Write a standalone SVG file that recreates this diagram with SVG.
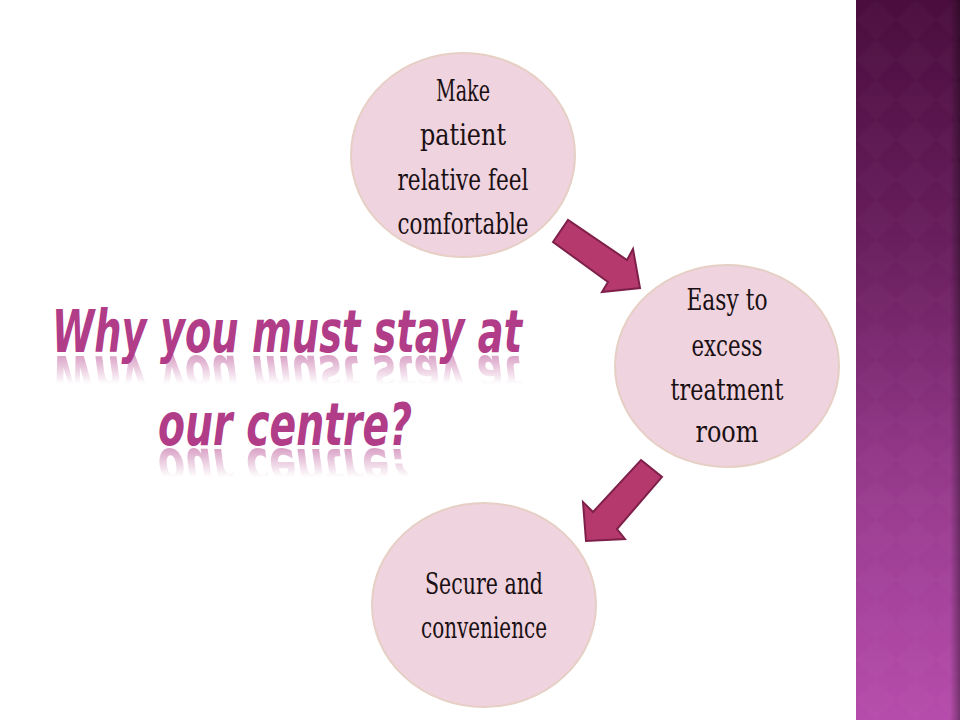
<svg xmlns="http://www.w3.org/2000/svg" xmlns:xlink="http://www.w3.org/1999/xlink" width="960" height="720" viewBox="0 0 960 720">
  <defs>
    <linearGradient id="side" x1="0" y1="0" x2="0" y2="1">
      <stop offset="0" stop-color="#4a0d3d"/>
      <stop offset="0.35" stop-color="#6a1f5f"/>
      <stop offset="0.7" stop-color="#9a3c90"/>
      <stop offset="1" stop-color="#b64cac"/>
    </linearGradient>
    <linearGradient id="edge" x1="0" y1="0" x2="1" y2="0">
      <stop offset="0" stop-color="#000" stop-opacity="0"/>
      <stop offset="1" stop-color="#000" stop-opacity="0.35"/>
    </linearGradient>
    <pattern id="diam" width="40" height="40" patternUnits="userSpaceOnUse" x="856" y="0">
      <path d="M20 0 L40 20 L20 40 L0 20 Z" fill="#ffffff" fill-opacity="0.015"/>
    </pattern>
    <linearGradient id="fade" x1="0" y1="0" x2="0" y2="1">
      <stop offset="0" stop-color="#fff" stop-opacity="0.5"/>
      <stop offset="1" stop-color="#fff" stop-opacity="0"/>
    </linearGradient>
    <mask id="refl1" maskUnits="userSpaceOnUse" x="0" y="0" width="960" height="720">
      <rect x="40" y="354" width="500" height="30" fill="url(#fade)"/>
    </mask>
    <mask id="refl2" maskUnits="userSpaceOnUse" x="0" y="0" width="960" height="720">
      <rect x="140" y="447" width="300" height="30" fill="url(#fade)"/>
    </mask>
  </defs>
  <style>
    .node ellipse { fill: #efd3de; stroke: #e6cfc4; stroke-width: 2; }
    .node text { font-family: "DejaVu Serif", "Liberation Serif", serif; font-stretch: condensed; font-size: 29px; fill: #1a1014; text-anchor: middle; }
    .arrow { fill: #b5396d; stroke: #7e2049; stroke-width: 2; stroke-linejoin: miter; }
    .title { font-family: "DejaVu Sans", "Liberation Sans", sans-serif; font-style: italic; font-weight: 600; font-size: 58px; fill: #b13c88; }
  </style>

  <rect width="960" height="720" fill="#ffffff"/>

  <g id="sidebar">
    <rect x="856" y="0" width="104" height="720" fill="url(#side)"/>
    <rect x="856" y="0" width="104" height="720" fill="url(#diam)"/>
    <rect x="950" y="0" width="10" height="720" fill="url(#edge)"/>
  </g>

  <g id="title">
    <text id="t1" class="title" x="52" y="352" textLength="470" lengthAdjust="spacingAndGlyphs">Why you must stay at</text>
    <text id="t2" class="title" x="158" y="445" textLength="254" lengthAdjust="spacingAndGlyphs">our centre?</text>
    <g mask="url(#refl1)">
      <use xlink:href="#t1" href="#t1" transform="translate(0,708) scale(1,-1)"/>
    </g>
    <g mask="url(#refl2)">
      <use xlink:href="#t2" href="#t2" transform="translate(0,894) scale(1,-1)"/>
    </g>
  </g>

  <g id="connectors">
    <polygon class="arrow" points="553,242 568,220 627,260 633,249 640,288 602,292 608,282"/>
    <polygon class="arrow" points="641,460 662,477 617,529 625,539 586,541 583,502 593,512"/>
  </g>

  <g id="node1" class="node">
    <ellipse cx="463" cy="155" rx="112" ry="102"/>
    <text x="463" y="101" textLength="54" lengthAdjust="spacingAndGlyphs">Make</text>
    <text x="463" y="145" textLength="86" lengthAdjust="spacingAndGlyphs">patient</text>
    <text x="463" y="190" textLength="131" lengthAdjust="spacingAndGlyphs">relative feel</text>
    <text x="463" y="234" textLength="131" lengthAdjust="spacingAndGlyphs">comfortable</text>
  </g>

  <g id="node2" class="node">
    <ellipse cx="727" cy="366" rx="112" ry="101"/>
    <text x="727" y="310" textLength="81" lengthAdjust="spacingAndGlyphs">Easy to</text>
    <text x="727" y="356" textLength="71" lengthAdjust="spacingAndGlyphs">excess</text>
    <text x="727" y="400" textLength="113" lengthAdjust="spacingAndGlyphs">treatment</text>
    <text x="727" y="442" textLength="63" lengthAdjust="spacingAndGlyphs">room</text>
  </g>

  <g id="node3" class="node">
    <ellipse cx="484" cy="605" rx="112" ry="102"/>
    <text x="484" y="594" textLength="118" lengthAdjust="spacingAndGlyphs">Secure and</text>
    <text x="484" y="638" textLength="126" lengthAdjust="spacingAndGlyphs">convenience</text>
  </g>
</svg>
